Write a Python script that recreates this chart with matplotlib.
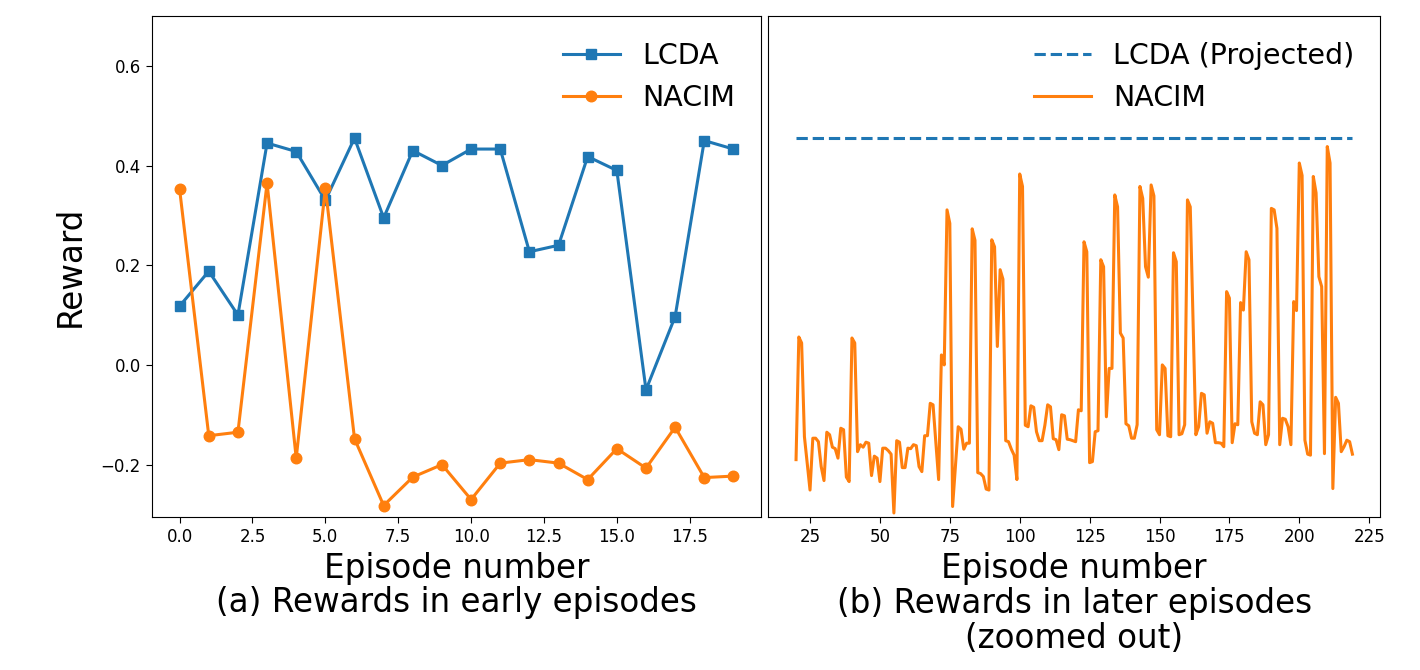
import numpy as np
import matplotlib
matplotlib.use("Agg")
import matplotlib.pyplot as plt
from matplotlib.ticker import MultipleLocator

# early episodes (panel a)
early_eps = np.arange(20)
lcda_early = [0.118, 0.188, 0.100, 0.445, 0.428, 0.330, 0.455, 0.295, 0.430, 0.400,
              0.433, 0.433, 0.227, 0.240, 0.418, 0.390, -0.050, 0.097, 0.450, 0.433]
nacim_early = [0.352, -0.142, -0.135, 0.365, -0.187, 0.355, -0.148, -0.282, -0.225, -0.200,
               -0.270, -0.197, -0.190, -0.197, -0.230, -0.168, -0.207, -0.125, -0.226, -0.223]

# later episodes (panel b)
later_eps = np.arange(20, 220)
lcda_projected = 0.455
nacim_later = [
    -0.190, 0.056, 0.044, -0.144, -0.198, -0.251, -0.147, -0.147, -0.154, -0.204,
    -0.232, -0.135, -0.140, -0.165, -0.168, -0.187, -0.127, -0.130, -0.225, -0.234,
    0.054, 0.044, -0.174, -0.160, -0.165, -0.155, -0.157, -0.222, -0.183, -0.187,
    -0.234, -0.167, -0.167, -0.172, -0.179, -0.297, -0.152, -0.155, -0.206, -0.206,
    -0.167, -0.168, -0.160, -0.162, -0.204, -0.214, -0.142, -0.142, -0.077, -0.080,
    -0.155, -0.230, 0.020, 0.000, 0.311, 0.284, -0.284, -0.205, -0.124, -0.129,
    -0.169, -0.157, -0.157, 0.273, 0.250, -0.216, -0.218, -0.224, -0.249, -0.251,
    0.251, 0.237, 0.037, 0.191, 0.172, -0.152, -0.154, -0.169, -0.181, -0.230,
    0.383, 0.358, -0.121, -0.124, -0.082, -0.085, -0.134, -0.152, -0.152, -0.121,
    -0.080, -0.084, -0.148, -0.150, -0.170, -0.100, -0.102, -0.149, -0.150, -0.152,
    -0.154, -0.090, -0.092, 0.247, 0.227, -0.196, -0.194, -0.134, -0.132, 0.211,
    0.197, -0.104, -0.007, -0.007, 0.341, 0.317, 0.064, 0.054, -0.118, -0.122,
    -0.147, -0.147, -0.120, 0.358, 0.334, 0.197, 0.176, 0.361, 0.339, -0.130,
    -0.140, 0.000, -0.007, -0.142, -0.144, 0.225, 0.207, -0.140, -0.138, -0.120,
    0.331, 0.317, 0.090, -0.140, -0.124, -0.057, -0.060, -0.137, -0.114, -0.117,
    -0.156, -0.156, -0.157, -0.164, 0.147, 0.134, -0.156, -0.118, -0.120, 0.125,
    0.110, 0.227, 0.211, -0.114, -0.137, -0.140, -0.074, -0.080, -0.160, -0.140,
    0.314, 0.311, 0.274, -0.160, -0.107, -0.109, -0.124, -0.160, 0.127, 0.109,
    0.405, 0.380, -0.151, -0.179, -0.181, 0.378, 0.345, 0.177, 0.157, -0.178,
    0.438, 0.405, -0.248, -0.065, -0.077, -0.174, -0.164, -0.151, -0.154, -0.179,
]

LABEL_FS = 23.5
TICK_FS = 12
LEG_FS = 20.5

fig = plt.figure(figsize=(14.2, 6.7), dpi=100)
ax1 = fig.add_axes([0.107, 0.2284, 0.429, 0.7478])
ax2 = fig.add_axes([0.541, 0.2284, 0.431, 0.7478], sharey=ax1)

ax1.plot(early_eps, lcda_early, color="#1f77b4", marker="s", lw=2.2, ms=7.6, label="LCDA")
ax1.plot(early_eps, nacim_early, color="#ff7f0e", marker="o", lw=2.2, ms=7.6, label="NACIM")
ax1.set_ylim(-0.305, 0.70)
ax1.yaxis.set_major_locator(MultipleLocator(0.2))
ax1.xaxis.set_major_locator(MultipleLocator(2.5))
ax1.set_ylabel("Reward", fontsize=LABEL_FS, labelpad=10)
ax1.set_xlabel("Episode number\n(a) Rewards in early episodes", fontsize=LABEL_FS, linespacing=1.05)
ax1.legend(loc="upper right", frameon=False, fontsize=LEG_FS)

ax2.plot(later_eps, [lcda_projected] * len(later_eps), "--", color="#1f77b4", lw=2.2,
         label="LCDA (Projected)")
ax2.plot(later_eps, nacim_later, color="#ff7f0e", lw=2.2, label="NACIM")
ax2.set_xticks(range(25, 226, 25))
ax2.tick_params(axis="y", left=False, labelleft=False)
ax2.set_xlabel("Episode number\n(b) Rewards in later episodes\n(zoomed out)", fontsize=LABEL_FS,
               linespacing=1.08)
ax2.legend(loc="upper right", frameon=False, fontsize=LEG_FS)

for ax in (ax1, ax2):
    ax.tick_params(labelsize=TICK_FS, length=4.5)

fig.savefig("out.png", dpi=100)
